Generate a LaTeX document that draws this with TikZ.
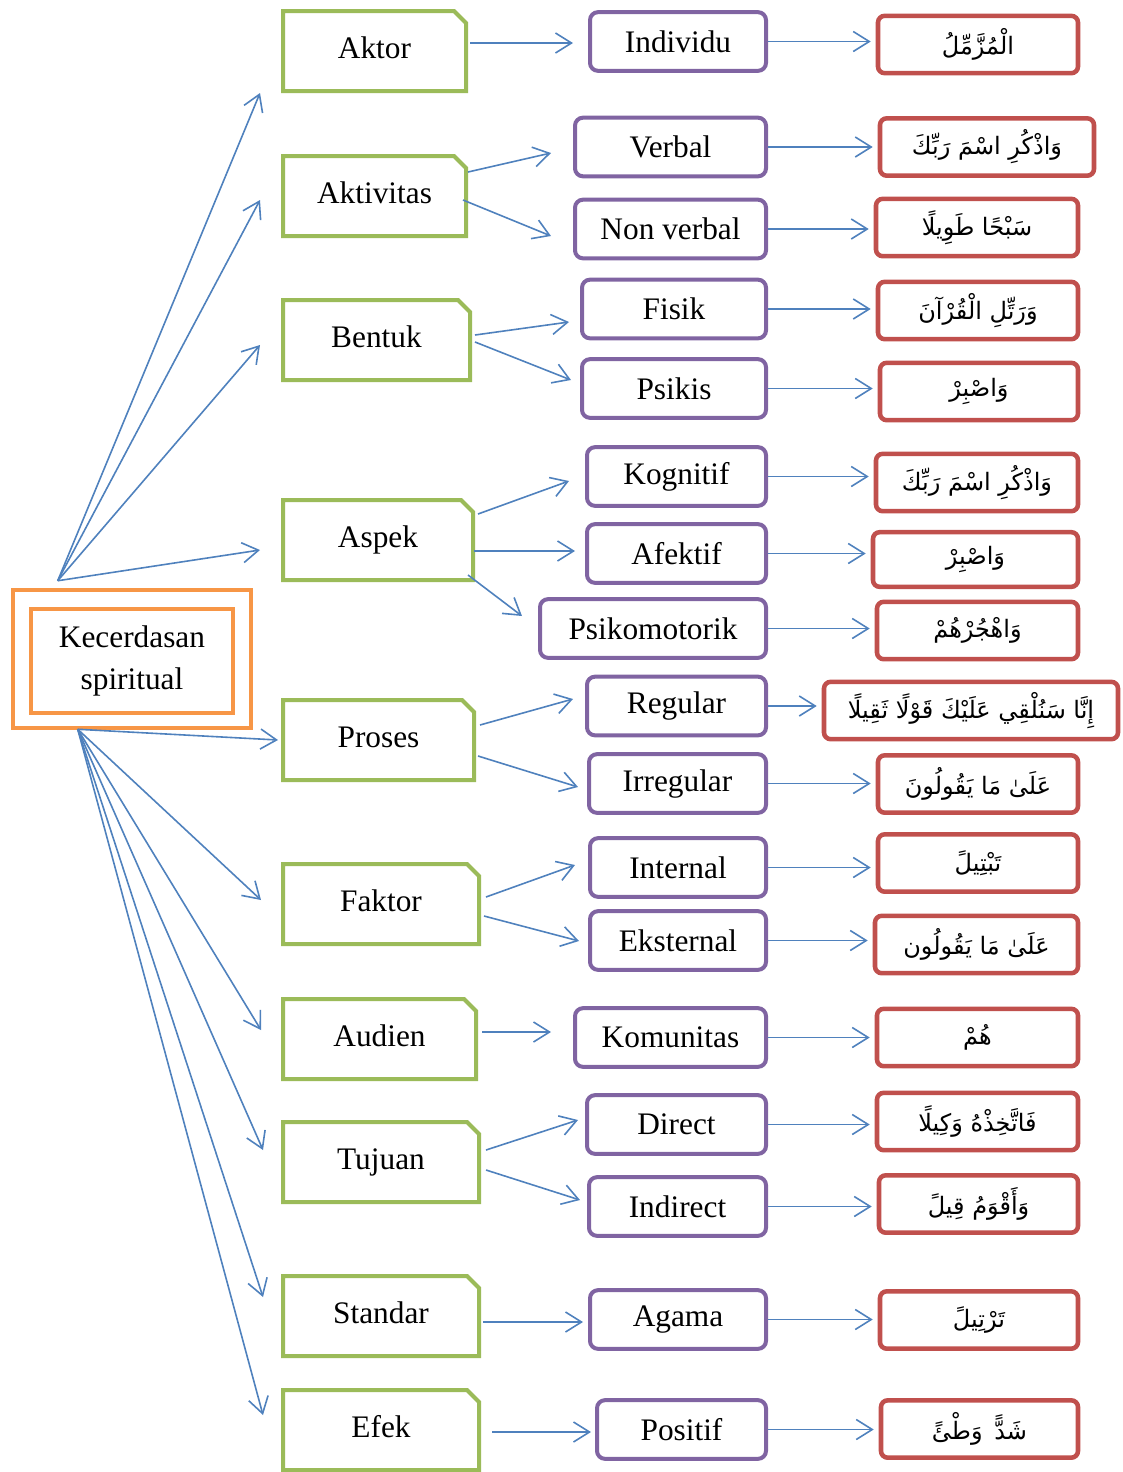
\documentclass[tikz,border=0pt]{standalone}
\usepackage{fontspec}
\setmainfont{Liberation Serif}
\newfontfamily\arabicfont[Script=Arabic]{DejaVu Sans}
\TeXXeTstate=1
\usetikzlibrary{shapes.misc,arrows.meta,calc}
\definecolor{grn}{HTML}{9BBB59}
\definecolor{prp}{HTML}{8064A2}
\definecolor{rd}{HTML}{C0504D}
\definecolor{org}{HTML}{F79646}
\definecolor{blu}{HTML}{4F81BD}
\newcommand\lbl{\fontsize{23.5}{31.5}\selectfont}
\newcommand\ar[1]{\fontsize{18}{21}\selectfont\arabicfont\beginR #1\endR}
\tikzset{
 gbox/.style={chamfered rectangle, chamfered rectangle corners=north east,
   chamfered rectangle xsep=4.5pt, chamfered rectangle ysep=4.5pt,
   draw=grn, line width=3pt, minimum height=60pt, inner sep=0pt, font=\lbl,
   text height=16pt, text depth=5pt},
 pbox/.style={draw=prp, rounded corners=6pt, line width=3pt, minimum height=44pt,
   inner sep=0pt, font=\lbl},
 rbox/.style={draw=rd, rounded corners=5pt, line width=3.4pt, minimum height=43pt,
   inner sep=0pt},
 arr/.style={draw=blu, line width=1.2pt, -{Straight Barb[length=12pt,width=15pt]}},
 arrh/.style={arr, shorten >=3.75pt},
}
\begin{document}
\begin{tikzpicture}[x=0.75pt,y=-0.75pt]
\useasboundingbox (0,0) rectangle (1123,1472);
% central node
\node[draw=org, line width=3.4pt, minimum width=238*0.75pt, minimum height=138*0.75pt] (ks) at (132,659) {};
\node[draw=org, line width=3.4pt, minimum width=202*0.75pt, minimum height=104*0.75pt, align=center, font=\lbl, inner sep=0pt] (ksin) at (132,661) {Kecerdasan\\spiritual};
\coordinate (ctop) at ($(ks.north west)+(47,-7)$);
\coordinate (cbot) at ($(ks.south west)+(67,-1)$);
% green
\node[gbox, minimum width=183*0.75pt] (aktor) at (374.5,51) {Aktor};
\node[gbox, minimum width=183*0.75pt] (aktiv) at (374.5,196) {Aktivitas};
\node[gbox, minimum width=187*0.75pt] (bentuk) at (376.5,340) {Bentuk};
\node[gbox, minimum width=190*0.75pt] (aspek) at (378,540) {Aspek};
\node[gbox, minimum width=191*0.75pt] (proses) at (378.5,740) {Proses};
\node[gbox, minimum width=196*0.75pt] (faktor) at (381,904) {Faktor};
\node[gbox, minimum width=193*0.75pt] (audien) at (379.5,1039) {Audien};
\node[gbox, minimum width=196*0.75pt] (tujuan) at (381,1162) {Tujuan};
\node[gbox, minimum width=196*0.75pt] (standar) at (381,1316) {Standar};
\node[gbox, minimum width=196*0.75pt] (efek) at (381,1430) {Efek};
% purple
\node[pbox, minimum width=176*0.75pt] (individu) at (678,41.5) {Individu};
\node[pbox, minimum width=191*0.75pt] (verbal) at (670.5,147) {Verbal};
\node[pbox, minimum width=191*0.75pt] (nonverbal) at (670.5,229) {Non verbal};
\node[pbox, minimum width=184*0.75pt] (fisik) at (674,309) {Fisik};
\node[pbox, minimum width=184*0.75pt] (psikis) at (674,388.5) {Psikis};
\node[pbox, minimum width=179*0.75pt] (kognitif) at (676.5,476.5) {Kognitif};
\node[pbox, minimum width=179*0.75pt] (afektif) at (676.5,553.5) {Afektif};
\node[pbox, minimum width=226*0.75pt] (psikomotorik) at (653,628.5) {Psikomotorik};
\node[pbox, minimum width=179*0.75pt] (regular) at (676.5,706) {Regular};
\node[pbox, minimum width=177*0.75pt] (irregular) at (677.5,783.5) {Irregular};
\node[pbox, minimum width=176*0.75pt] (internal) at (678,867.5) {Internal};
\node[pbox, minimum width=176*0.75pt] (eksternal) at (678,940.5) {Eksternal};
\node[pbox, minimum width=191*0.75pt] (komunitas) at (670.5,1037.5) {Komunitas};
\node[pbox, minimum width=179*0.75pt] (direct) at (676.5,1124.5) {Direct};
\node[pbox, minimum width=177*0.75pt] (indirect) at (677.5,1206.5) {Indirect};
\node[pbox, minimum width=176*0.75pt] (agama) at (678,1319.5) {Agama};
\node[pbox, minimum width=169*0.75pt] (positif) at (681.5,1429.5) {Positif};
% red
\node[rbox, minimum width=200*0.75pt] (r1) at (978,44.5) {\ar{الْمُزَّمِّلُ}};
\node[rbox, minimum width=214*0.75pt] (r2) at (987,147) {\ar{وَاذْكُرِ اسْمَ رَبِّكَ}};
\node[rbox, minimum width=202*0.75pt] (r3) at (977,227.5) {\ar{سَبْحًا طَوِيلًا}};
\node[rbox, minimum width=200*0.75pt] (r4) at (978,310.5) {\ar{وَرَتِّلِ الْقُرْآنَ}};
\node[rbox, minimum width=198*0.75pt] (r5) at (979,391.5) {\ar{وَاصْبِرْ}};
\node[rbox, minimum width=202*0.75pt] (r6) at (977,482.5) {\ar{وَاذْكُرِ اسْمَ رَبِّكَ}};
\node[rbox, minimum width=205*0.75pt, minimum height=41pt] (r7) at (975.5,559.5) {\ar{وَاصْبِرْ}};
\node[rbox, minimum width=201*0.75pt] (r8) at (977.5,630.5) {\ar{وَاهْجُرْهُمْ}};
\node[rbox, minimum width=294*0.75pt] (r9) at (971,710.5) {\ar{إِنَّا سَنُلْقِي عَلَيْكَ قَوْلًا ثَقِيلًا}};
\node[rbox, minimum width=200*0.75pt] (r10) at (978,784) {\ar{عَلَىٰ مَا يَقُولُونَ}};
\node[rbox, minimum width=200*0.75pt] (r11) at (978,863) {\ar{تَبْتِيلً}};
\node[rbox, minimum width=203*0.75pt] (r12) at (976.5,944.5) {\ar{عَلَىٰ مَا يَقُولُون}};
\node[rbox, minimum width=201*0.75pt] (r13) at (977.5,1037.5) {\ar{هُمْ}};
\node[rbox, minimum width=201*0.75pt] (r14) at (977.5,1121.5) {\ar{فَاتَّخِذْهُ وَكِيلًا}};
\node[rbox, minimum width=199*0.75pt] (r15) at (978.5,1204) {\ar{وَأَقْوَمُ قِيلً}};
\node[rbox, minimum width=198*0.75pt] (r16) at (979,1320) {\ar{تَرْتِيلً}};
\node[rbox, minimum width=197*0.75pt] (r17) at (979.5,1429) {\ar{شَدًّ\hspace{3pt} وَطْئً}};
% center to green
\draw[arr] (ctop) -- ($(aktor.west)+(-21,42)$);
\draw[arr] (ctop) -- ($(aktiv.west)+(-21,4)$);
\draw[arr] (ctop) -- ($(bentuk.west)+(-21,5)$);
\draw[arr] (ctop) -- ($(aspek.west)+(-21,10)$);
\draw[arr] (cbot) -- ($(proses.west)+(-3,0)$);
\draw[arr] (cbot) -- ($(faktor.west)+(-20,-4)$);
\draw[arr] (cbot) -- ($(audien.west)+(-20,-9)$);
\draw[arr] (cbot) -- ($(tujuan.west)+(-18,-12)$);
\draw[arr] (cbot) -- ($(standar.west)+(-18,-19)$);
\draw[arr] (cbot) -- ($(efek.west)+(-18,-15)$);
% green to purple
\draw[arr] ($(aktor.east)+(2,-8)$) -- ($(individu.west)+(-15,1.5)$);
\draw[arr] ($(aktiv.east)+(0,-24)$) -- ($(verbal.west)+(-22,6)$);
\draw[arr] ($(aktiv.east)+(-5,4)$) -- ($(nonverbal.west)+(-22,7)$);
\draw[arr] ($(bentuk.east)+(3,-5)$) -- ($(fisik.west)+(-11,13)$);
\draw[arr] ($(bentuk.east)+(3,2)$) -- ($(psikis.west)+(-9,-8.5)$);
\draw[arr] ($(aspek.east)+(3,-26)$) -- ($(kognitif.west)+(-16,4.5)$);
\draw[arr] ($(aspek.east)+(-1,11)$) -- ($(afektif.west)+(-10,-2.5)$);
\draw[arr] ($(aspek.east)+(-7,35)$) -- ($(psikomotorik.west)+(-16,-12.5)$);
\draw[arr] ($(proses.east)+(4,-15)$) -- ($(regular.west)+(-12,-7)$);
\draw[arr] ($(proses.east)+(2,16)$) -- ($(irregular.west)+(-9,3.5)$);
\draw[arr] ($(faktor.east)+(5,-7)$) -- ($(internal.west)+(-13,-2.5)$);
\draw[arr] ($(faktor.east)+(3,12)$) -- ($(eksternal.west)+(-9,0.5)$);
\draw[arr] ($(audien.east)+(4,-7)$) -- ($(komunitas.west)+(-22,-5.5)$);
\draw[arr] ($(tujuan.east)+(5,-12)$) -- ($(direct.west)+(-7,-4.5)$);
\draw[arr] ($(tujuan.east)+(5,8)$) -- ($(indirect.west)+(-7,-6.5)$);
\draw[arr] ($(standar.east)+(2,6)$) -- ($(agama.west)+(-5,2.5)$);
\draw[arr] ($(efek.east)+(11,2)$) -- ($(positif.west)+(-4,2.5)$);
% purple to red
\foreach \p/\r in {individu/r1,verbal/r2,nonverbal/r3,fisik/r4,psikis/r5,kognitif/r6,afektif/r7,psikomotorik/r8,regular/r9,irregular/r10,internal/r11,eksternal/r12,komunitas/r13,direct/r14,indirect/r15,agama/r16,positif/r17}
  \draw[arrh] (\p.east) -- (\p.east -| \r.west);
\end{tikzpicture}
\end{document}
